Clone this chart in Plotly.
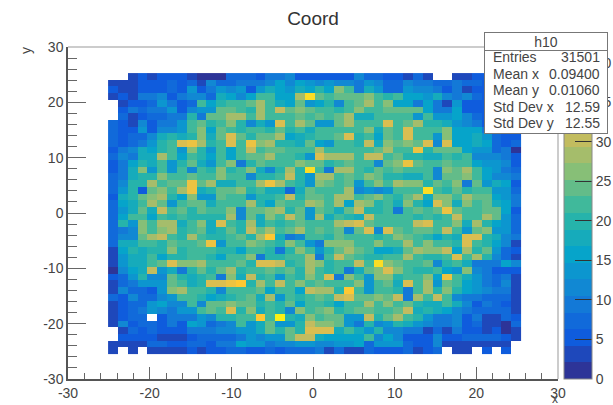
import plotly.graph_objects as go

_ = None
# Bin contents, top row first, left column first
rows_top_down = [
 [_,_,3,6,3,6,5,5,3,2,2,2,7,7,7,5,9,9,11,6,5, 5,5,5,5,11,7,7,5,5,3,8,3,_,_,3,3,5,5,5,5,_],
 [3,3,3,6,6,6,8,5,8,3,11,8,8,9,10,9,12,15,12,15,13, 11,13,12,12,9,14,11,7,7,12,10,9,8,8,10,8,7,5,5,5,4],
 [6,3,3,6,6,5,7,6,13,5,9,13,11,13,6,14,17,15,13,17,16, 20,15,26,23,10,17,14,7,8,14,12,12,9,6,10,3,5,5,5,5,4],
 [3,6,3,10,9,12,5,10,12,12,7,17,15,11,15,21,21,15,15,29,39, 24,23,24,25,24,26,22,20,21,15,15,13,18,11,9,11,7,5,5,5,4],
 [_,4,6,6,8,14,10,5,8,22,15,19,22,21,24,29,22,18,15,24,14, 15,19,12,21,24,28,21,26,15,15,9,16,9,3,14,6,6,5,5,5,4],
 [_,6,9,8,9,9,14,6,12,13,14,25,24,22,19,29,22,30,25,26,24, 23,21,19,23,26,22,23,24,24,25,25,15,10,9,15,6,6,5,5,5,4],
 [_,7,3,6,8,8,9,10,19,9,24,25,29,28,22,28,22,22,21,24,22, 24,23,25,28,17,17,22,23,21,22,14,21,14,14,16,12,8,6,5,5,5],
 [8,6,3,12,5,10,10,13,21,24,20,21,26,20,12,17,13,33,22,28,24, 14,14,25,29,21,22,23,32,23,24,29,20,20,17,14,12,9,6,6,5,5],
 [8,5,6,13,6,11,11,14,22,26,16,25,23,20,22,22,20,24,20,22,17, 23,22,21,23,23,27,17,24,22,33,22,23,21,26,15,15,15,9,7,6,6],
 [8,6,7,8,12,18,20,17,19,27,18,24,32,24,20,25,25,29,15,18,20, 21,21,25,33,20,23,15,24,22,32,22,22,13,26,15,15,18,13,7,5,6],
 [8,5,7,10,14,19,22,32,35,28,20,21,33,21,35,27,29,19,19,18,24, 15,13,21,23,19,31,17,26,24,27,24,33,11,33,16,15,18,15,8,5,7],
 [6,10,11,17,15,20,21,14,27,20,13,21,16,21,31,21,25,25,21,21,22, 28,21,22,23,23,22,24,29,22,21,35,20,24,24,24,15,14,13,7,9,2],
 [8,11,10,18,17,28,21,16,23,20,15,23,15,22,24,24,28,22,22,20,13, 33,29,28,28,21,31,31,22,24,20,20,17,17,21,20,21,11,12,12,9,5],
 [5,9,15,19,17,22,13,20,25,18,14,23,26,10,20,24,22,22,23,27,24, 24,20,22,25,21,21,12,25,27,34,25,22,21,25,22,21,16,14,13,11,6],
 [5,9,17,26,13,23,14,22,11,21,20,27,19,21,26,18,11,20,28,19,39, 22,10,29,29,21,20,25,22,24,22,23,23,12,26,24,28,21,16,13,9,7],
 [7,10,17,19,19,27,21,22,24,21,22,26,22,21,12,20,20,21,31,20,14, 28,28,22,24,21,27,25,20,19,18,18,21,11,24,25,27,21,15,12,11,9],
 [7,12,20,20,28,22,25,24,35,24,29,17,17,21,21,29,34,29,22,19,14, 27,24,22,24,13,23,27,23,28,27,26,19,24,21,27,10,24,13,18,16,5],
 [7,13,20,6,24,27,21,29,34,17,19,25,25,26,19,22,18,18,8,17,25, 23,21,22,29,12,14,12,14,21,22,21,39,23,20,24,20,21,21,13,13,7],
 [5,18,19,24,26,28,20,16,26,13,14,24,22,21,13,19,20,22,31,20,25, 25,23,28,29,23,24,26,23,20,25,28,18,26,26,22,29,25,25,16,14,9],
 [7,16,17,23,29,24,13,23,25,25,17,22,21,21,28,20,16,25,23,21,28, 26,21,29,16,28,26,19,21,18,27,19,16,32,26,18,27,22,24,17,15,9],
 [7,14,17,24,18,31,21,24,20,25,22,22,27,12,24,24,27,28,20,25,14, 24,22,18,24,30,20,19,23,9,22,24,22,25,34,24,22,22,25,25,16,6],
 [7,15,21,23,15,21,19,21,20,20,19,20,29,11,25,18,27,22,30,25,14, 28,18,21,19,17,31,22,21,22,22,20,22,20,22,30,21,22,29,24,14,7],
 [7,19,14,27,22,28,29,17,22,27,18,32,21,19,28,18,22,19,22,24,21, 23,21,28,30,33,25,21,23,22,21,31,33,22,23,26,18,28,20,15,13,8],
 [8,10,11,27,23,26,28,20,22,24,18,20,25,20,30,25,29,21,25,28,22, 24,22,25,11,25,33,12,33,24,22,24,24,23,31,22,14,25,27,13,13,8],
 [8,11,12,24,28,31,22,20,29,23,19,19,22,25,20,28,36,18,9,11,22, 22,20,25,23,22,23,20,21,27,24,22,20,15,20,18,33,32,20,18,11,9],
 [7,18,17,22,21,19,24,22,21,24,34,13,22,22,26,24,21,20,26,22,13, 10,27,27,27,21,22,26,21,23,28,21,26,22,22,19,33,21,20,16,12,4],
 [4,15,19,17,19,20,26,19,23,22,21,19,19,16,23,21,20,10,19,26,22, 14,20,25,29,24,21,15,15,17,25,29,26,26,31,16,28,20,25,13,8,5],
 [3,14,17,17,22,15,20,20,23,22,20,15,22,21,27,10,20,20,21,22,28, 10,21,30,25,22,20,20,21,23,29,22,19,20,21,33,22,29,20,12,8,4],
 [3,13,17,17,23,25,33,27,26,29,22,21,22,24,19,32,32,30,20,22,29, 26,19,22,23,30,22,38,26,25,22,21,25,11,20,22,17,10,10,10,16,11],
 [2,12,16,17,30,13,17,10,19,24,19,24,28,20,22,22,25,23,25,20,29, 23,20,23,9,18,25,26,33,27,21,19,20,23,15,14,26,11,9,6,6,5],
 [5,8,13,20,12,12,24,19,18,20,22,10,26,18,30,20,22,13,22,20,26, 21,32,10,27,22,14,27,26,19,22,21,27,15,34,23,17,14,9,7,9,4],
 [3,8,9,13,14,14,24,22,18,20,32,33,35,36,20,29,23,31,21,27,23, 25,22,23,22,26,13,22,24,17,32,22,28,13,24,22,16,13,9,8,11,4],
 [3,12,8,8,6,14,27,28,22,23,20,11,21,21,23,24,16,21,23,15,30, 29,29,20,36,22,13,23,21,20,10,22,28,20,26,20,15,14,11,9,9,4],
 [8,6,11,8,8,12,14,21,22,19,16,17,19,21,25,18,29,13,23,19,21, 24,22,30,33,24,24,26,24,31,10,29,23,30,21,11,10,9,8,7,8,4],
 [3,6,7,8,14,15,11,12,22,12,25,24,26,24,25,19,23,20,24,16,23, 23,20,15,22,22,28,21,26,22,24,19,18,18,21,17,12,5,9,8,6,3],
 [3,6,8,10,13,12,10,13,14,22,24,22,33,20,27,18,21,19,12,27,23, 24,27,20,22,25,24,22,21,24,30,18,19,18,16,11,9,8,7,7,8,3],
 [3,5,8,7,_,6,10,10,10,13,12,19,19,21,21,37,21,40,19,18,26, 22,24,24,14,14,31,19,24,28,21,20,14,10,10,11,6,9,3,3,7,6],
 [3,11,5,8,7,6,9,6,16,14,8,9,12,21,13,17,25,13,13,20,31, 27,27,24,14,10,20,12,14,20,17,13,11,10,10,11,6,8,3,3,2,7],
 [_,3,8,5,8,5,6,6,9,9,10,12,12,14,14,18,24,20,24,20,33, 33,32,18,22,18,13,20,12,12,9,9,4,8,4,9,6,5,3,5,2,3],
 [_,5,5,6,6,4,4,4,6,7,8,8,8,9,13,12,14,14,24,31,30, 18,16,15,15,15,22,12,16,11,6,6,6,12,5,5,7,8,8,8,6,4],
 [3,4,4,4,8,8,5,5,8,8,5,10,10,16,13,14,10,12,12,13,13, 12,12,13,13,15,7,13,13,13,8,6,6,11,4,4,3,3,3,3,3,_],
 [3,_,3,_,3,3,3,3,5,3,5,6,7,7,5,6,7,6,7,8,7, 9,3,8,4,4,7,6,5,5,8,3,6,8,_,3,4,_,5,_,5,_],
]
x_ticks = [-30, -20, -10, 0, 10, 20, 30]
y_ticks = [-30, -20, -10, 0, 10, 20, 30]
x_labels = ["-30", "-20", "-10", "0", "10", "20", "30"]
y_labels = ["-30", "-20", "-10", "0", "10", "20", "30"]
bar_ticks = [0, 5, 10, 15, 20, 25, 30, 35, 40]
stat_names = ["Entries", "Mean x", "Mean y", "Std Dev x", "Std Dev y"]
stat_values = ["31501", "0.09400", "0.01060", "12.59", "12.55"]

for r in rows_top_down:
    assert len(r) == 42, len(r)

# ROOT's kBird palette, cut into 20 contour bands
bird = [(0.2082,0.1664,0.5293),(0.0592,0.3599,0.8684),(0.0780,0.5041,0.8385),
        (0.0232,0.6419,0.7914),(0.1802,0.7178,0.6425),(0.5301,0.7492,0.4662),
        (0.8186,0.7328,0.3499),(0.9956,0.7862,0.1968),(0.9764,0.9832,0.0539)]
def bird_at(t):
    p = t * 8
    i = min(int(p), 7)
    f = p - i
    c = [bird[i][k] + (bird[i + 1][k] - bird[i][k]) * f for k in range(3)]
    return "rgb(%d,%d,%d)" % tuple(round(v * 255) for v in c)
N = 20
scale = []
for i in range(N):
    col = bird_at((i + 0.5) / N)
    scale.append([i / N, col])
    scale.append([(i + 1) / N, col])

W, H = 613, 405
L, R, T, B = 68, 558, 47, 379
def fx(px): return (px - L) / (R - L)
def fy(py): return (B - py) / (B - T)

fig = go.Figure(go.Heatmap(
    z=rows_top_down[::-1], x0=-25.09 + 0.6, dx=1.205, y0=-25.45 + 0.604, dy=1.208,
    zmin=0, zmax=42, colorscale=scale, hoverongaps=False, xgap=0, ygap=0,
    colorbar=dict(x=fx(564), xanchor="left", xpad=0, y=0, yanchor="bottom", ypad=0, len=1,
                  thickness=28, outlinewidth=1, outlinecolor="#888888",
                  tickmode="array", tickvals=bar_ticks, ticktext=[str(v) for v in bar_ticks],
                  ticks="inside", ticklen=17, tickcolor="#333333", tickwidth=1,
                  tickfont=dict(family="Liberation Sans", size=14, color="#444444")),
))

axis_font = dict(family="Liberation Sans", size=14, color="#444444")
fig.update_layout(
    width=W, height=H,
    margin=dict(l=L, r=W - R, t=T, b=H - B, autoexpand=False),
    paper_bgcolor="white", plot_bgcolor="white", showlegend=False,
    title=dict(text="Coord", x=313 / W, xanchor="center", y=1 - 18 / H, yanchor="middle",
               font=dict(family="Liberation Sans", size=19, color="#333333")),
    xaxis=dict(range=[-30, 30], showgrid=False, zeroline=False, showline=True, automargin=False,
               linecolor="#555555", linewidth=1.5, ticks="inside", ticklen=12, tickcolor="#666666",
               tickmode="array", tickvals=x_ticks, ticktext=x_labels, tickfont=axis_font,
               minor=dict(ticks="inside", dtick=2, ticklen=6, tickcolor="#666666", showgrid=False)),
    yaxis=dict(range=[-30, 30], showgrid=False, zeroline=False, showline=True, automargin=False,
               linecolor="#555555", linewidth=1.5, ticks="inside", ticklen=18, tickcolor="#666666",
               tickmode="array", tickvals=y_ticks, ticktext=y_labels, tickfont=axis_font,
               minor=dict(ticks="inside", dtick=2, ticklen=9, tickcolor="#666666", showgrid=False)),
    shapes=[
        dict(type="line", xref="paper", yref="paper", x0=0, x1=1, y0=1, y1=1,
             line=dict(color="#999999", width=1)),
        dict(type="line", xref="paper", yref="paper", x0=1, x1=1, y0=0, y1=1,
             line=dict(color="#999999", width=1)),
    ],
)

def note(text, px, py, anchor="center", size=14, color="#444444", **kw):
    fig.add_annotation(text=text, xref="paper", yref="paper", x=fx(px), y=fy(py),
                       xanchor=anchor, yanchor="middle", showarrow=False,
                       font=dict(family="Liberation Sans", size=size, color=color), **kw)

note("x", 555, 399, size=12)
note("y", 26, 51, size=14, textangle=-90)

# Stats box, drawn as bordered annotations so that it covers the colour bar
note(" ", 546, 83, width=122, height=99, bgcolor="white", bordercolor="#777777", borderwidth=1, borderpad=0)
note("h10", 546, 41.5, width=122, height=17, bgcolor="white", bordercolor="#777777", borderwidth=1, borderpad=0)
for i, (name, val) in enumerate(zip(stat_names, stat_values)):
    note(name, 491, 57 + i * 16.5, anchor="left")
    note(val, 602, 57 + i * 16.5, anchor="right")

fig.write_html("out.html", config={"displayModeBar": False},
               post_script="document.body.style.margin='0';")
